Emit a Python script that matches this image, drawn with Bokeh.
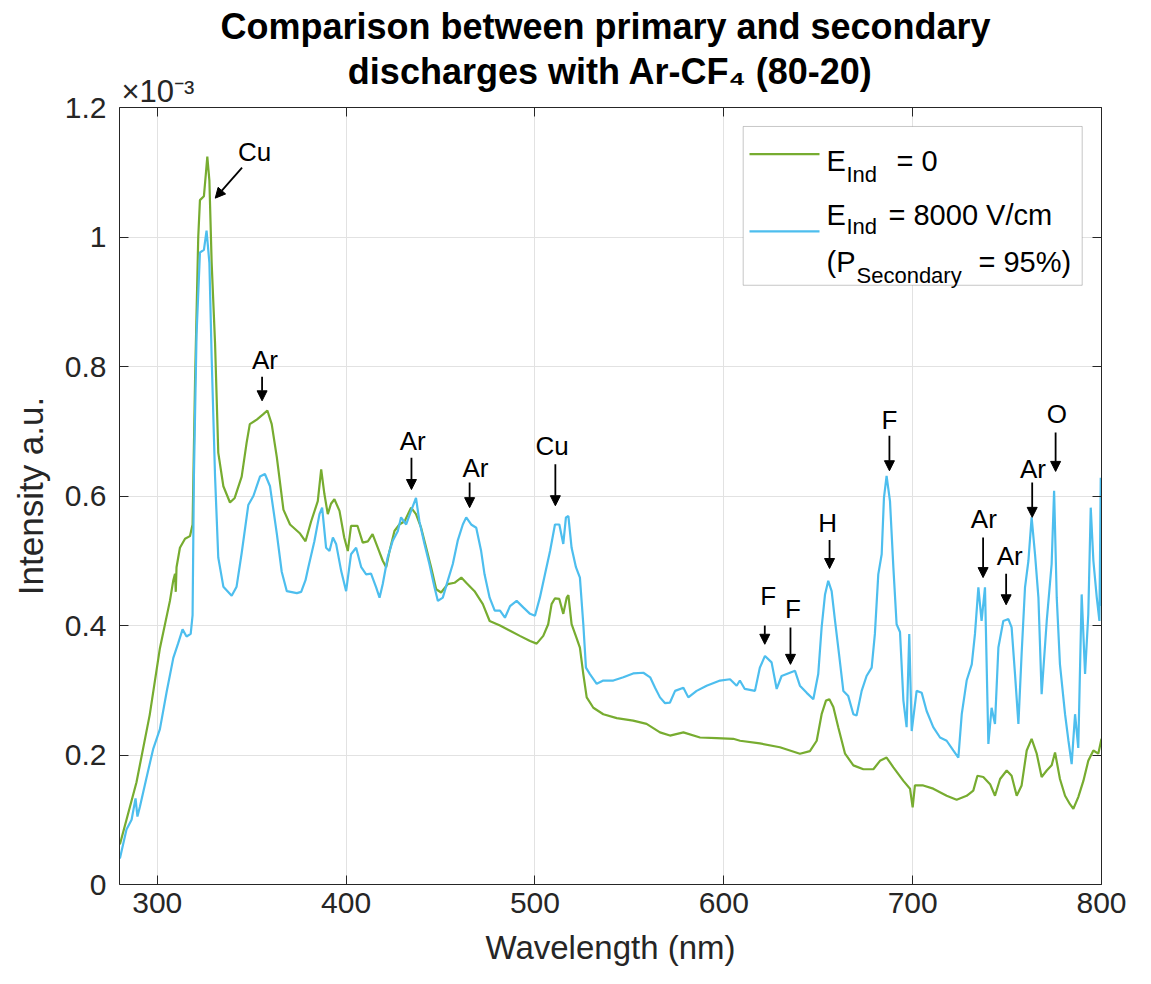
from bokeh.plotting import figure
from bokeh.models import (Range1d, LinearAxis, FixedTicker, CustomJSTickFormatter,
                          Label, Arrow, NormalHead, BoxAnnotation, Title)
from bokeh.embed import file_html
from bokeh.resources import INLINE

# ---------------- data (intensity in units of 1e-3) ----------------
wl_e0 = [280.2, 289, 296, 301.4, 306.7, 308.5, 309.4, 309.8, 310.2, 312, 314.7, 317.3, 318.7,
         320, 321.7, 322.6, 324.7, 325.8, 326.5, 327.6, 328.8, 330.6, 332.3, 335, 338.5, 341,
         344.7, 347.3, 349, 352.7, 356, 358.3, 360.6, 363.3, 366.8, 370.3, 375.6, 378.5,
         381.5, 385, 386.8, 388.5, 390.3, 392, 393.8, 396.5, 399, 400.9, 402.6, 406, 408.8,
         411.5, 414, 416.8, 419.4, 421.2, 423, 425.6, 428.2, 431, 434.4, 437, 439.7, 442.4,
         445, 447.7, 450.3, 453.8, 457.4, 461, 463.6, 468, 472.4, 476, 481.5, 486.8, 492,
         497.4, 500.9, 504.4, 507, 508.8, 510.6, 512.9, 515, 516.8, 517.7, 519.4, 522, 523.8,
         525.6, 527.4, 530.9, 536.2, 543.3, 552, 559.1, 566.2, 571.5, 578.6, 587.4, 596.2,
         605, 608.6, 619.1, 629.7, 640.3, 645.6, 649.2, 651.8, 654.1, 655.9, 658, 660.6,
         664.2, 668.6, 673.9, 679.2, 682.7, 686.2, 689.8, 695.1, 698.6, 700, 701.2, 705.6,
         710.9, 718, 723.3, 728.6, 732.1, 734.3, 737.4, 741, 743.6, 746.3, 749.8, 752.4,
         755.1, 757.7, 760.4, 763, 765.7, 768.3, 771, 773.6, 775.4, 778, 780.7, 783.3, 785.1,
         787.7, 790.4, 793, 795.7, 798.3, 800]
int_e0 = [0.062, 0.158, 0.262, 0.365, 0.438, 0.47, 0.48, 0.452, 0.49, 0.52, 0.534, 0.538, 0.556,
          0.777, 1.0, 1.057, 1.063, 1.10, 1.124, 1.087, 0.96, 0.836, 0.667, 0.615, 0.59, 0.597,
          0.63, 0.682, 0.711, 0.718, 0.726, 0.732, 0.711, 0.66, 0.579, 0.556, 0.542, 0.53,
          0.561, 0.592, 0.641, 0.603, 0.572, 0.588, 0.595, 0.577, 0.536, 0.515, 0.554, 0.554, 0.528,
          0.53, 0.541, 0.52, 0.50, 0.49, 0.515, 0.546, 0.556, 0.561, 0.582, 0.572, 0.551, 0.52,
          0.49, 0.456, 0.451, 0.464, 0.466, 0.474, 0.466, 0.453, 0.433, 0.407, 0.40, 0.392, 0.384,
          0.376, 0.372, 0.384, 0.402, 0.433, 0.442, 0.441, 0.418, 0.443, 0.447, 0.402, 0.381, 0.366,
          0.325, 0.289, 0.273, 0.263, 0.257, 0.253, 0.248, 0.235, 0.23, 0.235, 0.227, 0.226,
          0.225, 0.222, 0.218, 0.212, 0.202, 0.206, 0.222, 0.263, 0.284, 0.286, 0.274, 0.243,
          0.202, 0.184, 0.178, 0.178, 0.191, 0.196, 0.181, 0.16, 0.148, 0.119, 0.153, 0.153,
          0.148, 0.137, 0.131, 0.137, 0.145, 0.168, 0.166, 0.155, 0.137, 0.163, 0.176, 0.168,
          0.137, 0.153, 0.207, 0.225, 0.202, 0.166, 0.176, 0.184, 0.204, 0.163, 0.137, 0.124, 0.117,
          0.135, 0.16, 0.191, 0.207, 0.202, 0.225]

wl_e8000 = [280.2, 283.7, 286.4, 288.5, 289.5, 290.8, 294.3, 297.9, 301.4, 305, 308.5, 311, 313.4,
            315.5, 317.7, 318.7, 319.4, 320.8, 322.6, 324.7, 326.1, 327.6, 328.8, 330.6, 332.3,
            335, 339.4, 342, 344.7, 348.2, 350.9, 354.4, 357, 359.7, 363.3, 365.9, 368.6, 373.9,
            376.2, 378.5, 380, 383.2, 385.9, 387.3, 389.4, 391.2, 393, 394.7, 397.4, 400, 402.6,
            405.3, 408, 410.6, 413.2, 415.9, 417.7, 419.4, 422, 424.7, 427.4, 429.1, 431.8, 434.4,
            437, 438.8, 441.5, 444.1, 446.8, 448.6, 451.2, 453.8, 456.5, 459.1, 461.8, 463.6,
            466.2, 468.9, 471.5, 473.3, 476, 478.7, 481.5, 484.1, 486.8, 490.3, 493.8, 497.4,
            500, 502.6, 505.3, 508, 510.6, 512.9, 515, 516.4, 517.7, 519.4, 521.7, 523.8, 525.6,
            527, 529.1, 532.7, 536.2, 541.5, 546.8, 552, 557.4, 561, 563.6, 566.2, 568.9, 571.5,
            574.2, 578.6, 581.2, 585.6, 590.9, 598, 603.3, 606.8, 608.5, 611.1, 616.5, 619.1,
            621.8, 625.3, 628, 630.6, 635, 637.7, 640.3, 643.9, 647.4, 650, 651.8, 653.6, 655.3,
            657.1, 658.9, 661.2, 663.3, 665.9, 668.6, 670.3, 673, 675.6, 678.3, 680, 681.8, 683.6,
            684.8, 686.2, 688, 689.8, 691.5, 693.3, 695.1, 696.8, 698.2, 699.5, 702.1, 704.8,
            707.4, 710.9, 714.5, 718, 721.5, 724.2, 726, 728.6, 731.3, 733, 734.8, 736.5, 738.3,
            740.1, 741.8, 743.6, 745.4, 748, 750.7, 752.4, 754.2, 756, 757.7, 759.5, 761.3, 763,
            764.8, 766.6, 768.3, 771, 773.6, 774.9, 776.3, 778, 780.7, 782.5, 784.2, 786, 787.7,
            789.5, 791.3, 793, 794.3, 795.7, 797.5, 798.9, 799.6, 800]
int_e8000 = [0.04, 0.085, 0.10, 0.133, 0.105, 0.12, 0.165, 0.21, 0.24, 0.298, 0.35, 0.372, 0.394,
             0.383, 0.387, 0.416, 0.63, 0.85, 0.976, 0.98, 1.01, 0.96, 0.814, 0.63, 0.505,
             0.46, 0.446, 0.46, 0.512, 0.586, 0.60, 0.63, 0.634, 0.615, 0.542, 0.483, 0.453, 0.45,
             0.452, 0.47, 0.49, 0.53, 0.572, 0.582, 0.52, 0.515, 0.536, 0.526, 0.484, 0.453, 0.51,
             0.52, 0.49, 0.479, 0.48, 0.459, 0.443, 0.464, 0.505, 0.531, 0.546, 0.567, 0.556, 0.577,
             0.597, 0.561, 0.526, 0.495, 0.459, 0.438, 0.443, 0.469, 0.495, 0.531, 0.556, 0.567,
             0.556, 0.551, 0.515, 0.479, 0.443, 0.423, 0.423, 0.412, 0.43, 0.438, 0.428, 0.418,
             0.415, 0.443, 0.479, 0.515, 0.556, 0.556, 0.526, 0.567, 0.569, 0.52, 0.49, 0.474, 0.402,
             0.335, 0.325, 0.31, 0.315, 0.315, 0.32, 0.326, 0.327, 0.32, 0.304, 0.289, 0.28, 0.281,
             0.299, 0.304, 0.289, 0.299, 0.307, 0.315, 0.317, 0.307, 0.315, 0.302, 0.299, 0.335,
             0.353, 0.343, 0.302, 0.322, 0.327, 0.33, 0.307, 0.296, 0.286, 0.325, 0.397, 0.448, 0.469,
             0.453, 0.407, 0.351, 0.299, 0.291, 0.263, 0.261, 0.299, 0.322, 0.335, 0.387, 0.479, 0.51,
             0.597, 0.631, 0.592, 0.489, 0.402, 0.39, 0.284, 0.243, 0.387, 0.237, 0.299, 0.296,
             0.268, 0.243, 0.227, 0.222, 0.207, 0.196, 0.263, 0.315, 0.34, 0.387, 0.459, 0.407, 0.459,
             0.217, 0.273, 0.248, 0.366, 0.407, 0.41, 0.397, 0.325, 0.248, 0.356, 0.459, 0.5, 0.567,
             0.51, 0.443, 0.294, 0.407, 0.495, 0.608, 0.443, 0.34, 0.263, 0.222, 0.186, 0.263, 0.211,
             0.448, 0.325, 0.417, 0.582, 0.5, 0.443, 0.407, 0.628, 0.43]

x_ticks = [300, 400, 500, 600, 700, 800]
x_tick_labels = ["300", "400", "500", "600", "700", "800"]
y_ticks = [0, 0.2, 0.4, 0.6, 0.8, 1.0, 1.2]
y_tick_labels = ["0", "0.2", "0.4", "0.6", "0.8", "1", "1.2"]

# peak annotations: (label, text x, text y, arrow start x, start y, arrow tip x, tip y)
peak_labels = [
    ("Cu", 351.5, 1.132, 344.9, 1.107, 330.7, 1.060),
    ("Ar", 357.0, 0.810, 355.5, 0.784, 355.5, 0.747),
    ("Ar", 435.3, 0.685, 434.6, 0.659, 434.6, 0.610),
    ("Ar", 468.5, 0.644, 465.4, 0.621, 465.4, 0.582),
    ("Cu", 509.1, 0.677, 510.8, 0.649, 510.8, 0.585),
    ("F", 623.5, 0.446, 621.7, 0.400, 621.7, 0.371),
    ("F", 636.6, 0.426, 635.3, 0.397, 635.3, 0.340),
    ("H", 655.0, 0.558, 656.0, 0.532, 656.0, 0.488),
    ("F", 687.7, 0.717, 687.7, 0.693, 687.7, 0.639),
    ("Ar", 737.7, 0.565, 737.3, 0.536, 737.3, 0.474),
    ("Ar", 751.4, 0.507, 749.5, 0.480, 749.5, 0.432),
    ("Ar", 763.7, 0.642, 763.3, 0.621, 763.3, 0.567),
    ("O", 776.3, 0.727, 775.7, 0.698, 775.7, 0.638),
]

title_line1 = "Comparison between primary  and secondary"
title_line2 = "discharges with Ar-CF\u2084 (80-20)"
exponent_text = "\u00d710\u207b\u00b3"

GREEN = "#77AC30"
BLUE = "#4DBEEE"
TXT = "#262626"
FONT = "Liberation Sans, Arial, Helvetica, sans-serif"

X0, X1, Y0, Y1 = 280, 800, 0, 1.2
FL, FR, FT, FB = 119, 1101, 106, 884   # frame edges (px) on the canvas
W, H = 1135, 968


# layout helpers (canvas pixel -> data) for decorations inside the frame
def dx(px):
    return X0 + (px - FL) * (X1 - X0) / (FR - FL)


def dy(py):
    return Y0 + (FB - py) * (Y1 - Y0) / (FB - FT)


p = figure(width=W, height=H, output_backend="svg", toolbar_location=None,
           x_range=Range1d(X0, X1), y_range=Range1d(Y0, Y1),
           min_border_left=FL, min_border_right=W - FR, min_border_top=FT,
           min_border_bottom=H - FB)
p.outline_line_color = None
p.background_fill_color = "white"
p.border_fill_color = "white"

xt = FixedTicker(ticks=x_ticks)
yt = FixedTicker(ticks=y_ticks)
xfmt = CustomJSTickFormatter(args=dict(tv=x_ticks, tl=x_tick_labels),
                             code="const i = tv.indexOf(tick); return i >= 0 ? tl[i] : '';")
yfmt = CustomJSTickFormatter(args=dict(tv=y_ticks, tl=y_tick_labels),
                             code="const i = tv.indexOf(tick); return i >= 0 ? tl[i] : '';")
blank = CustomJSTickFormatter(code="return '';")

for ax, tk, fm in ((p.xaxis[0], xt, xfmt), (p.yaxis[0], yt, yfmt)):
    ax.ticker = tk
    ax.formatter = fm
    ax.major_tick_in = 9
    ax.major_tick_out = 0
    ax.minor_tick_line_color = None
    ax.axis_line_color = TXT
    ax.major_tick_line_color = TXT
    ax.major_label_text_font = FONT
    ax.major_label_text_font_size = "30px"
    ax.major_label_text_color = TXT
    ax.axis_label_text_font = FONT
    ax.axis_label_text_font_style = "normal"
    ax.axis_label_text_color = TXT

p.xaxis.axis_label = "Wavelength (nm)"
p.yaxis.axis_label = "Intensity a.u."
p.xaxis.axis_label_text_font_size = "33px"
p.yaxis.axis_label_text_font_size = "35px"
p.xaxis.major_label_standoff = 8
p.xaxis.axis_label_standoff = 13
p.yaxis.major_label_standoff = 13
p.yaxis.axis_label_standoff = 12

for side, tk in (("above", xt), ("right", yt)):
    ax = LinearAxis(ticker=tk, formatter=blank, major_tick_in=9, major_tick_out=0,
                    minor_tick_line_color=None, axis_line_color=TXT, major_tick_line_color=TXT,
                    major_label_text_font_size="0px", major_label_standoff=0)
    p.add_layout(ax, side)


# ---- top panel: titles stacked from the frame outwards ----
def text_h(fs):
    return 1.117 * fs


def standoff_for(box_bottom, baseline, fs):
    sy = baseline + 0.212 * fs + 2
    return 2 * (box_bottom - sy)


b = FT
# small spacer next to the frame
sp0_fs = 4
p.add_layout(Title(text=" ", text_font_size=f"{sp0_fs}px", standoff=0), "above")
b -= 2 + text_h(sp0_fs)
# exponent marker
e_fs = 31
s = standoff_for(b, 99, e_fs)
p.add_layout(Title(text=exponent_text, align="left", offset=2, standoff=s,
                   text_font=FONT, text_font_size=f"{e_fs}px", text_font_style="normal",
                   text_color=TXT), "above")
b -= 2 + text_h(e_fs) + s
# second title line
t_fs = 36
s = standoff_for(b, 82, t_fs)
p.add_layout(Title(text=title_line2, align="center", standoff=s,
                   text_font=FONT, text_font_size=f"{t_fs}px", text_font_style="bold",
                   text_color="black"), "above")
b -= 2 + text_h(t_fs) + s
# spacer
target_b1 = 51
sp1_fs = 8
s = (b - target_b1) - 2 - text_h(sp1_fs)
p.add_layout(Title(text=" ", text_font_size=f"{sp1_fs}px", standoff=s), "above")
b = target_b1
# first title line
s = standoff_for(b, 38, t_fs)
p.add_layout(Title(text=title_line1, align="center", standoff=s,
                   text_font=FONT, text_font_size=f"{t_fs}px", text_font_style="bold",
                   text_color="black"), "above")

p.xgrid.ticker = xt
p.ygrid.ticker = yt
p.xgrid.grid_line_color = "#e2e2e2"
p.ygrid.grid_line_color = "#e2e2e2"

p.line(wl_e0, int_e0, line_color=GREEN, line_width=2.2)
p.line(wl_e8000, int_e8000, line_color=BLUE, line_width=2.2)

# peak labels and arrows
for lab, tx, ty, ax0, ay0, ax1, ay1 in peak_labels:
    p.add_layout(Label(x=tx, y=ty, text=lab, text_font=FONT, text_font_size="26px",
                       text_color="black", text_align="center", text_baseline="middle"))
    p.add_layout(Arrow(end=NormalHead(size=10, fill_color="black", line_color="black", line_width=1),
                       x_start=ax0, y_start=ay0, x_end=ax1, y_end=ay1,
                       line_color="black", line_width=1.8))

# legend (drawn manually for subscripts)
p.add_layout(BoxAnnotation(left=dx(742.7), right=dx(1081.7), top=dy(125), bottom=dy(284),
                           fill_color="white", fill_alpha=1.0, line_color="#444444", line_width=1))
p.add_layout(Arrow(end=None, x_start=dx(749), y_start=dy(152.7), x_end=dx(819), y_end=dy(152.7),
                   line_color=GREEN, line_width=2.2))
p.add_layout(Arrow(end=None, x_start=dx(749), y_start=dy(230), x_end=dx(819), y_end=dy(230),
                   line_color=BLUE, line_width=2.2))
legend_texts = [
    ("E", 826, 160, 29), ("Ind", 846, 173.3, 22), ("= 0", 896, 160, 29),
    ("E", 826, 213.3, 29), ("Ind", 846, 225, 22), ("= 8000 V/cm", 888, 213.3, 29),
    ("(P", 826, 261, 29), ("Secondary", 856, 274.5, 22), ("= 95%)", 978, 261, 29),
]
for t, px, py, fs in legend_texts:
    p.add_layout(Label(x=dx(px), y=dy(py), text=t, text_font=FONT, text_font_size=f"{fs}px",
                       text_color="black", text_align="left", text_baseline="alphabetic"))

open("out.html", "w").write(file_html(p, INLINE))
